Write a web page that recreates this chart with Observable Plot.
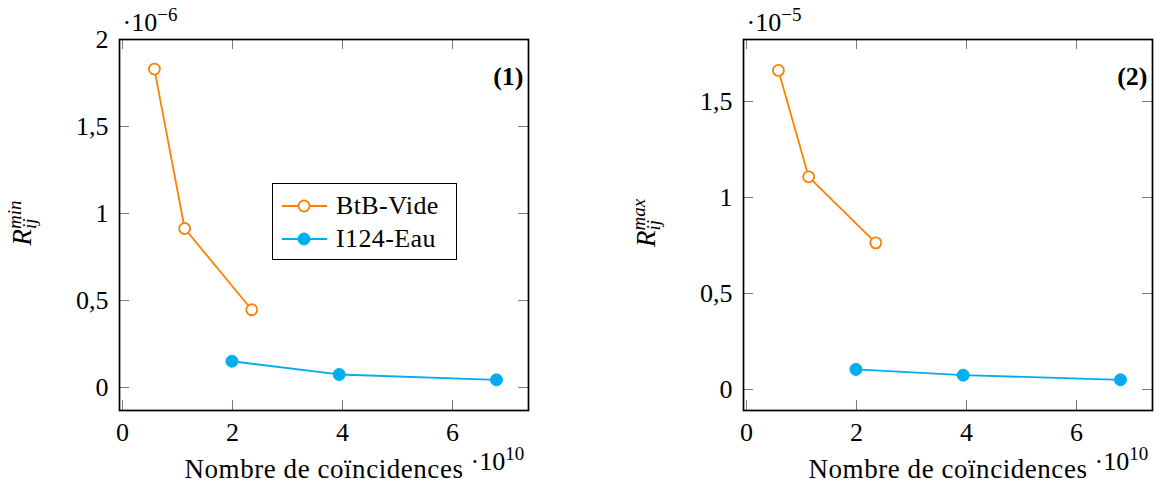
<!DOCTYPE html>
<html><head><meta charset="utf-8">
<script src="https://cdn.jsdelivr.net/npm/d3@7"></script>
<script src="https://cdn.jsdelivr.net/npm/@observablehq/plot@0.6"></script>
<style>
body{margin:0;background:#fff;}
#wrap{position:relative;width:1160px;height:486px;overflow:hidden;font-family:'Liberation Serif','Times New Roman','DejaVu Serif',serif;background:#fff;}
.panel{position:absolute;top:0;}
.panel text{font-family:'Liberation Serif','Times New Roman','DejaVu Serif',serif;}
.legend{position:absolute;left:272px;top:183px;width:183px;height:75px;border:1.6px solid #000;background:#fff;font-size:26px;}
.legend .row{position:absolute;left:0;height:30px;display:flex;align-items:center;letter-spacing:0.4px;}
.legend svg{display:block;margin-left:9px;margin-right:9px;}
</style></head><body><div id="wrap"></div>
<script>
// ---- data ----
const xTicks = [0, 2, 4, 6];
const yTicksMin = [0, 0.5, 1, 1.5, 2];
const yTicksMax = [0, 0.5, 1, 1.5];
const seriesNames = ["BtB-Vide", "I124-Eau"];
const btbX = [0.58, 1.13, 2.35];
const btbMin = [1.83, 0.914, 0.447];
const btbMax = [1.662, 1.108, 0.764];
const eauX = [1.99, 3.94, 6.8];
const eauMin = [0.151, 0.075, 0.044];
const eauMax = [0.105, 0.075, 0.051];
const colors = ["#ff8000", "#00aeef"];

const FONT = "'Liberation Serif','Times New Roman','DejaVu Serif',serif";
const wrap = document.getElementById("wrap");
const fmt = d => String(d).replace(".", ",");

function panel({left, width, mL, mR, yDomain, yTicks, btbY, eauY, tag, yExp, yLab}) {
  const H = 486, mT = 39, mB = 76, TL = 10;
  const innerW = width - mL - mR, innerH = H - mT - mB;
  const btb = btbX.map((x, i) => ({x, y: btbY[i]}));
  const eau = eauX.map((x, i) => ({x, y: eauY[i]}));
  const svg = Plot.plot({
    width, height: H, marginLeft: mL, marginRight: mR, marginTop: mT, marginBottom: mB,
    style: {fontFamily: FONT, fontSize: "26px", color: "#000", background: "transparent", overflow: "visible"},
    x: {domain: [-0.0545, 7.382]},
    y: {domain: yDomain},
    marks: [
      Plot.tickX(xTicks, {x: d => d, stroke: "#7a7a7a", strokeWidth: 1, insetTop: innerH - TL}),
      Plot.tickX(xTicks, {x: d => d, stroke: "#7a7a7a", strokeWidth: 1, insetBottom: innerH - TL}),
      Plot.tickY(yTicks, {y: d => d, stroke: "#7a7a7a", strokeWidth: 1, insetRight: innerW - TL}),
      Plot.tickY(yTicks, {y: d => d, stroke: "#7a7a7a", strokeWidth: 1, insetLeft: innerW - TL}),
      Plot.axisX({ticks: xTicks, tickSize: 0, tickPadding: 12, tickFormat: fmt, label: null, fontSize: 26}),
      Plot.axisY({ticks: yTicks, tickSize: 0, tickPadding: 11, tickFormat: fmt, label: null, fontSize: 26}),
      Plot.line(btb, {x: "x", y: "y", stroke: colors[0], strokeWidth: 1.8}),
      Plot.dot(btb, {x: "x", y: "y", r: 5.5, stroke: colors[0], fill: "white", strokeWidth: 1.8}),
      Plot.line(eau, {x: "x", y: "y", stroke: colors[1], strokeWidth: 1.8}),
      Plot.dot(eau, {x: "x", y: "y", r: 6, fill: colors[1], stroke: colors[1], strokeWidth: 1}),
      Plot.frame({stroke: "#000", strokeWidth: 1.7}),
      Plot.text([tag], {text: d => d, frameAnchor: "top-right", dx: -5, dy: 37, fontWeight: "bold", textAnchor: "end", lineAnchor: "middle", fontSize: 26}),
      Plot.text([yExp], {text: d => d, frameAnchor: "top-left", dx: 3, dy: -9, textAnchor: "start", lineAnchor: "bottom", fontSize: 26}),
      Plot.text(["Nombre de coïncidences"], {text: d => d, frameAnchor: "bottom-right", dx: -65, dy: 67, textAnchor: "end", lineAnchor: "bottom", fontSize: 27}),
      Plot.text(["·10^10"], {text: d => d, frameAnchor: "bottom-right", dx: -58, dy: 59, textAnchor: "start", lineAnchor: "bottom", fontSize: 26}),
      Plot.text([yLab], {text: d => d, frameAnchor: "left", dx: -97, dy: -2, rotate: -90, textAnchor: "middle", lineAnchor: "middle", fontSize: 27, fontStyle: "italic"})
    ]
  });
  svg.classList.add("panel");
  svg.style.left = left + "px";
  wrap.appendChild(svg);

  d3.select(svg).selectAll("text").each(function() {
    const s = this.textContent;
    let m;
    if (s.startsWith("Nombre")) {
      this.style.letterSpacing = "0.55px";
    } else if ((m = s.match(/^(.*)_(.*)\^(.*)$/))) {
      // R_{ij}^{...}: stacked subscript and superscript
      this.textContent = m[1];
      const sub = d3.select(this).append("tspan").attr("dy", 5).attr("font-size", 19).text(m[2]);
      const w = sub.node().getComputedTextLength();
      d3.select(this).append("tspan").attr("dx", -w).attr("dy", -15).attr("font-size", 19).text(m[3]);
    } else if ((m = s.match(/^(.*)\^(.*)$/))) {
      this.textContent = m[1];
      d3.select(this).append("tspan").attr("dy", -10).attr("font-size", 19).text(m[2]);
    }
  });
}

panel({left: 0, width: 580, mL: 119, mR: 52, yDomain: [-0.132, 2.0], yTicks: yTicksMin,
  btbY: btbMin, eauY: eauMin, tag: "(1)", yExp: "·10^−6", yLab: "R_ij^min"});
panel({left: 580, width: 580, mL: 163, mR: 8, yDomain: [-0.109, 1.823], yTicks: yTicksMax,
  btbY: btbMax, eauY: eauMax, tag: "(2)", yExp: "·10^−5", yLab: "R_ij^max"});

// legend (panel 1)
const leg = d3.select(wrap).append("div").attr("class", "legend");
seriesNames.forEach((name, i) => {
  const row = leg.append("div").attr("class", "row").style("top", (i === 0 ? 7 : 40) + "px");
  const s = row.append("svg").attr("width", 45).attr("height", 20);
  s.append("line").attr("x1", 0).attr("x2", 45).attr("y1", 10).attr("y2", 10)
    .attr("stroke", colors[i]).attr("stroke-width", 1.8);
  s.append("circle").attr("cx", 22).attr("cy", 10).attr("r", i === 0 ? 5.5 : 6)
    .attr("fill", i === 0 ? "white" : colors[i]).attr("stroke", colors[i]).attr("stroke-width", i === 0 ? 1.8 : 1);
  row.append("span").text(name);
});
</script></body></html>
